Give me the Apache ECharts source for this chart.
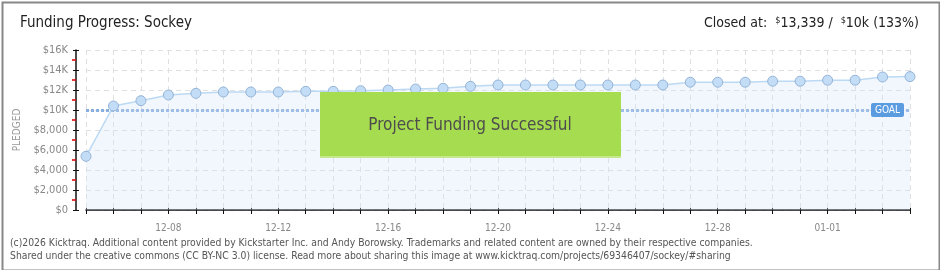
<!DOCTYPE html>
<html><head><meta charset="utf-8">
<script src="https://cdn.jsdelivr.net/npm/echarts@6/dist/echarts.min.js"></script>
<style>html,body{margin:0;padding:0;background:#fff}#c{width:940px;height:270px}</style>
</head><body><div id="c"></div>
<script>
const dates = ['12-05','12-06','12-07','12-08','12-09','12-10','12-11','12-12','12-13','12-14','12-15','12-16','12-17','12-18','12-19','12-20','12-21','12-22','12-23','12-24','12-25','12-26','12-27','12-28','12-29','12-30','12-31','01-01','01-02','01-03','01-04'];
const pledged = [5370,10400,10930,11500,11670,11800,11800,11800,11870,11870,11930,12000,12100,12170,12370,12500,12500,12500,12500,12500,12500,12500,12780,12780,12780,12880,12880,12980,12980,13300,13339];
const goal = 10000;
const yTicks = [0,2000,4000,6000,8000,10000,12000,14000,16000];
const titleText = 'Funding Progress: Sockey';
const footer1 = '(c)2026 Kicktraq. Additional content provided by Kickstarter Inc. and Andy Borowsky. Trademarks and related content are owned by their respective companies.';
const footer2 = 'Shared under the creative commons (CC BY-NC 3.0) license. Read more about sharing this image at www.kicktraq.com/projects/69346407/sockey/#sharing';

const FONT = 'DejaVu Sans Condensed, Liberation Sans Narrow, DejaVu Sans, sans-serif';
const chart = echarts.init(document.getElementById('c'), null, {renderer:'canvas'});
const yFmt = v => v >= 10000 ? '$' + (v/1000) + 'K' : '$' + v.toLocaleString('en-US');
const common = {type:'category', data:dates, boundaryGap:false, position:'bottom', offset:10};
chart.setOption({
  animation:false,
  grid:{left:86, right:30, top:50, bottom:60, containLabel:false},
  title:[
    {text:titleText, left:20, top:16, padding:0, textStyle:{fontFamily:FONT, fontSize:15, fontWeight:'normal', color:'#222'}},
    {text:'Closed at:  {s|$}13,339 /  {s|$}10k (133%)', right:21, top:16, padding:0,
     textStyle:{fontFamily:FONT, fontSize:14, fontWeight:'normal', color:'#222',
       rich:{s:{fontSize:9, verticalAlign:'top', color:'#222', fontFamily:FONT, padding:[0,0,6,0]}}}}
  ],
  xAxis:[
    Object.assign({}, common, {
      axisLine:{show:true, lineStyle:{color:'#111', width:1.5}},
      axisTick:{show:true, interval:0, length:4, lineStyle:{color:'#111'}},
      axisLabel:{interval:(i)=> (i-3)%4===0, color:'#888', fontSize:10, fontFamily:FONT, margin:3},
      splitLine:{show:true, interval:0, lineStyle:{color:'#e0e0e0', type:[5,4]}}
    }),
    Object.assign({}, common, {
      axisLine:{show:false}, axisLabel:{show:false}, splitLine:{show:false},
      axisTick:{show:true, inside:true, interval:0, length:2, lineStyle:{color:'#111'}}
    })
  ],
  yAxis:[
    {type:'value', min:0, max:16000, interval:2000, offset:10,
     name:'PLEDGED', nameLocation:'middle', nameGap:52, nameRotate:90,
     nameTextStyle:{color:'#999', fontSize:10, fontFamily:FONT},
     axisLine:{show:true, lineStyle:{color:'#111', width:1.5}},
     axisTick:{show:true, length:3, lineStyle:{color:'#111'}},
     minorTick:{show:true, splitNumber:2, length:4, lineStyle:{color:'#e00000', width:1.5}},
     axisLabel:{formatter:yFmt, color:'#888', fontSize:11, fontFamily:FONT, margin:8},
     splitLine:{show:true, lineStyle:{color:'#e0e0e0', type:[5,4]}}},
    {type:'value', min:0, max:16000, interval:2000, offset:10, position:'left',
     axisLine:{show:false}, axisLabel:{show:false}, splitLine:{show:false},
     axisTick:{show:true, inside:true, length:3, lineStyle:{color:'#111'}}}
  ],
  series:[
    {type:'line', data:pledged, symbol:'circle', symbolSize:10, z:3,
     lineStyle:{color:'#bcd9f3', width:1.5},
     itemStyle:{color:'#c4ddf6', borderColor:'#93b3d6', borderWidth:1},
     areaStyle:{color:'rgba(210,228,250,0.42)'},
     markLine:{silent:true, symbol:'none', z:2,
       lineStyle:{color:'#88afe0', width:3, type:[3,2]},
       label:{show:false},
       data:[{yAxis:goal}]}}
  ],
  graphic:[
    {type:'rect', left:0, top:0, shape:{x:0,y:0,width:937,height:268}, style:{fill:'none', stroke:'#888', lineWidth:2}, silent:true, z:100},
    {type:'rect', shape:{x:320, y:92, width:301, height:66}, style:{fill:'#a6dc4f', lineWidth:0}, z:50},
    {type:'rect', shape:{x:320, y:156, width:301, height:2}, style:{fill:'#c4e98c'}, z:51},
    {type:'text', x:470, y:126, style:{text:'Project Funding Successful', fill:'#4d4d4d', fontSize:17, fontFamily:FONT, align:'center', verticalAlign:'middle', textShadowColor:'#fff', textShadowOffsetX:1, textShadowOffsetY:1}, z:52},
    {type:'rect', shape:{x:871, y:103, width:33, height:14, r:2}, style:{fill:'#5b9be0'}, z:60},
    {type:'text', x:887.5, y:110.5, style:{text:'GOAL', fill:'#fff', fontSize:10, fontFamily:FONT, align:'center', verticalAlign:'middle'}, z:61},
    {type:'text', x:10, y:243, style:{text:footer1, fill:'#555', fontSize:10.3, fontFamily:FONT, verticalAlign:'middle'}, z:60},
    {type:'text', x:10, y:256, style:{text:footer2, fill:'#555', fontSize:10.3, fontFamily:FONT, verticalAlign:'middle'}, z:60}
  ]
});
</script></body></html>
